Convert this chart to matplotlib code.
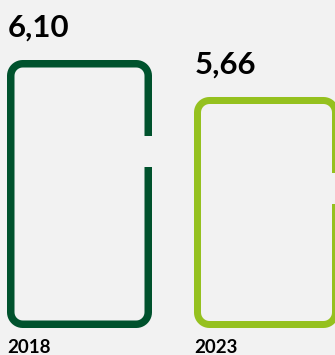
import numpy as np
import matplotlib
matplotlib.use("Agg")
import matplotlib.pyplot as plt
from matplotlib.path import Path
from matplotlib.patches import PathPatch

# Data
years = ["2018", "2023"]
values = [6.10, 5.66]
value_labels = ["6,10", "5,66"]
colors = ["#00522d", "#95c11f"]

BG = "#f2f2f2"
W, H = 335, 355
fig = plt.figure(figsize=(W / 100, H / 100), dpi=100, facecolor=BG)
ax = fig.add_axes([0, 0, 1, 1])
ax.set_facecolor(BG)
ax.axis("off")

# y axis in value units; pixel scale
PPU = 84.09          # pixels per value unit
y_top = 6.8135
ax.set_xlim(0, W)
ax.set_ylim(y_top - H / PPU, y_top)
base = y_top - 328 / PPU   # common baseline of shapes (value units)

lefts = [7, 194]
width = 145
lws = [7.5, 7.0]
radius = 12

def py(px):
    return px / PPU

for i, (v, lab, yr, c) in enumerate(zip(values, value_labels, years, colors)):
    lw = lws[i]
    h = lw / 2
    x0 = lefts[i] + h
    x1 = lefts[i] + width - h
    yt = v - py(h)
    yb = base + py(h)
    r = radius
    gap_top = v - py(76)
    gap_bot = v - py(107)
    pts = []
    pts.append((x1, gap_bot))
    pts.append((x1, yb + py(r)))
    t = np.linspace(0, -np.pi / 2, 12)
    pts += [(x1 - r + r * np.cos(a), yb + py(r) + py(r) * np.sin(a)) for a in t]
    pts.append((x0 + r, yb))
    t = np.linspace(-np.pi / 2, -np.pi, 12)
    pts += [(x0 + r + r * np.cos(a), yb + py(r) + py(r) * np.sin(a)) for a in t]
    pts.append((x0, yt - py(r)))
    t = np.linspace(np.pi, np.pi / 2, 12)
    pts += [(x0 + r + r * np.cos(a), yt - py(r) + py(r) * np.sin(a)) for a in t]
    pts.append((x1 - r, yt))
    t = np.linspace(np.pi / 2, 0, 12)
    pts += [(x1 - r + r * np.cos(a), yt - py(r) + py(r) * np.sin(a)) for a in t]
    pts.append((x1, gap_top))
    path = Path(pts)
    patch = PathPatch(path, facecolor="none", edgecolor=c, lw=lw * 72 / 100,
                      capstyle="butt", joinstyle="round")
    ax.add_patch(patch)

    ax.text(lefts[i] + 1, v + py(23), lab, fontfamily="Lato", fontweight="bold",
            fontsize=22.5, color="black", ha="left", va="baseline")
    ax.text(lefts[i], y_top - py(353), yr, fontfamily="Lato", fontweight="bold",
            fontsize=13.5, color="black", ha="left", va="baseline")

fig.savefig("out.png", dpi=100, facecolor=BG)
